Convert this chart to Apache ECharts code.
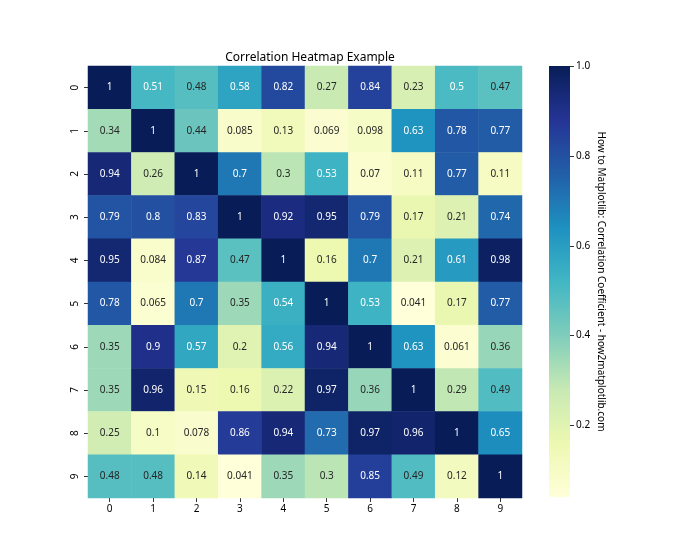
<!DOCTYPE html>
<html>
<head>
<meta charset="utf-8">
<script src="https://cdn.jsdelivr.net/npm/echarts@6/dist/echarts.min.js"></script>
<style>html,body{margin:0;padding:0;background:#fff;}#c{width:700px;height:560px;}</style>
</head>
<body>
<div id="c"></div>
<script>
var xCategories = ['0','1','2','3','4','5','6','7','8','9'];
var yCategories = ['0','1','2','3','4','5','6','7','8','9'];
var row0 = [1, 0.51, 0.48, 0.58, 0.82, 0.27, 0.84, 0.23, 0.5, 0.47];
var row1 = [0.34, 1, 0.44, 0.085, 0.13, 0.069, 0.098, 0.63, 0.78, 0.77];
var row2 = [0.94, 0.26, 1, 0.7, 0.3, 0.53, 0.07, 0.11, 0.77, 0.11];
var row3 = [0.79, 0.8, 0.83, 1, 0.92, 0.95, 0.79, 0.17, 0.21, 0.74];
var row4 = [0.95, 0.084, 0.87, 0.47, 1, 0.16, 0.7, 0.21, 0.61, 0.98];
var row5 = [0.78, 0.065, 0.7, 0.35, 0.54, 1, 0.53, 0.041, 0.17, 0.77];
var row6 = [0.35, 0.9, 0.57, 0.2, 0.56, 0.94, 1, 0.63, 0.061, 0.36];
var row7 = [0.35, 0.96, 0.15, 0.16, 0.22, 0.97, 0.36, 1, 0.29, 0.49];
var row8 = [0.25, 0.1, 0.078, 0.86, 0.94, 0.73, 0.97, 0.96, 1, 0.65];
var row9 = [0.48, 0.48, 0.14, 0.041, 0.35, 0.3, 0.85, 0.49, 0.12, 1];
var colorbarTicks = [0.2, 0.4, 0.6, 0.8, 1.0];
var vMin = 0.041, vMax = 1;
var palette = ['#ffffd9','#edf8b1','#c7e9b4','#7fcdbb','#41b6c4','#1d91c0','#225ea8','#253494','#081d58'];

var rows = [row0,row1,row2,row3,row4,row5,row6,row7,row8,row9];
var data = [];
rows.forEach(function(r, yi){
  r.forEach(function(v, xi){
    data.push({value:[xi, yi, v], label:{color: v >= 0.5 ? '#ffffff' : '#262626'}});
  });
});
var gradStops = palette.map(function(c, i){ return {offset: i/(palette.length-1), color: c}; });
var FONT = 'Noto Sans, DejaVu Sans, sans-serif';
var chart = echarts.init(document.getElementById('c'), null, {renderer:'canvas'});
chart.setOption({
  animation:false,
  backgroundColor:'#ffffff',
  title:{text:'Correlation Heatmap Example', left:305, top:47, textAlign:'center',
    textStyle:{fontFamily:FONT, fontSize:12, fontWeight:'normal', color:'#000'}},
  grid:[
    {left:88, top:66, width:434, height:432},
    {left:549, top:66, width:21, height:431}
  ],
  xAxis:[
    {type:'category', gridIndex:0, data:xCategories, position:'bottom',
      axisLine:{show:false}, axisTick:{show:true, length:4, alignWithLabel:true, lineStyle:{color:'#333'}},
      axisLabel:{fontFamily:FONT, fontSize:10, color:'#000', margin:6}, splitLine:{show:false}},
    {type:'category', gridIndex:1, show:false, data:['cb']}
  ],
  yAxis:[
    {type:'category', gridIndex:0, data:yCategories, inverse:true,
      axisLine:{show:false}, axisTick:{show:true, length:4, alignWithLabel:true, lineStyle:{color:'#333'}},
      axisLabel:{fontFamily:FONT, fontSize:10, color:'#000', rotate:90, margin:8}, splitLine:{show:false}},
    {type:'value', gridIndex:1, position:'right', min:vMin, max:vMax,
      axisLine:{show:false}, splitLine:{show:false},
      axisTick:{show:true, length:4, customValues:colorbarTicks, lineStyle:{color:'#333'}},
      axisLabel:{fontFamily:FONT, fontSize:10, color:'#000', margin:6, customValues:colorbarTicks,
        formatter:function(v){return v.toFixed(1);}},
      name:'How to Matplotlib: Correlation Coefficient - how2matplotlib.com',
      nameLocation:'middle', nameRotate:-90, nameGap:26,
      nameTextStyle:{fontFamily:FONT, fontSize:10, color:'#000'}}
  ],
  visualMap:{type:'continuous', min:vMin, max:vMax, seriesIndex:0, show:false,
    inRange:{color:palette}},
  series:[
    {type:'heatmap', xAxisIndex:0, yAxisIndex:0, data:data,
      label:{show:true, fontFamily:FONT, fontSize:10,
        formatter:function(p){return String(p.value[2]);}},
      itemStyle:{borderWidth:0},
      emphasis:{disabled:true}},
    {type:'bar', xAxisIndex:1, yAxisIndex:1, data:[vMax], barWidth:'100%', silent:true,
      itemStyle:{borderRadius:0, color:new echarts.graphic.LinearGradient(0, 1, 0, 0, gradStops)}}
  ]
});
</script>
</body>
</html>
